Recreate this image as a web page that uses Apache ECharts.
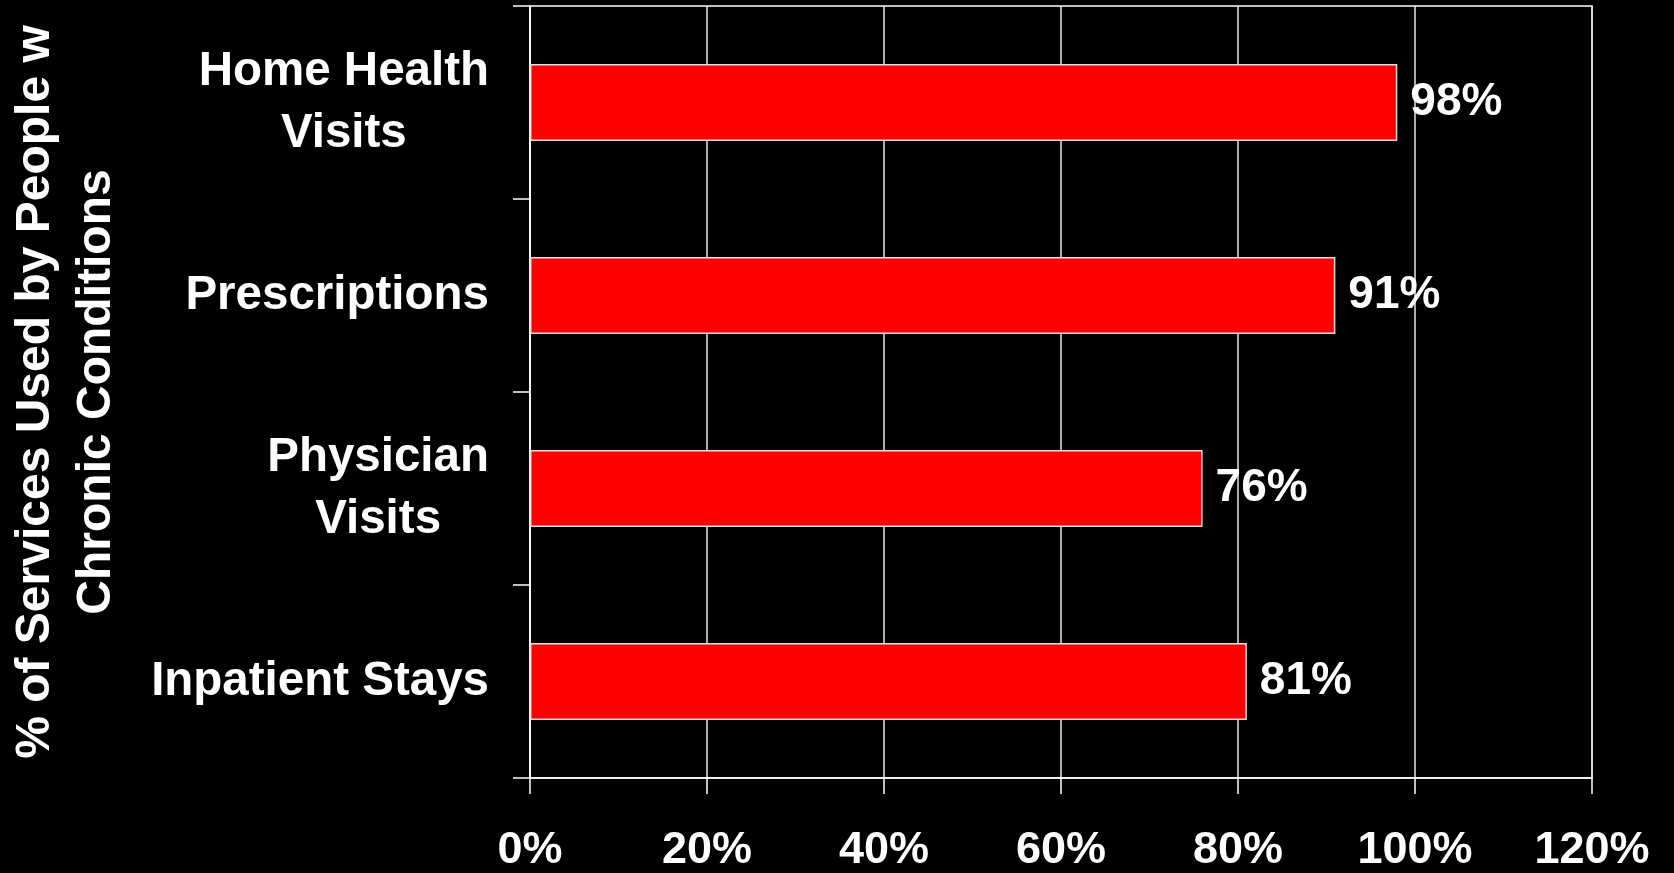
<!DOCTYPE html>
<html>
<head>
<meta charset="utf-8">
<title>% of Services Used by People w Chronic Conditions</title>
<script src="https://cdn.jsdelivr.net/npm/echarts@6/dist/echarts.min.js"></script>
<style>
  html, body { margin: 0; padding: 0; background: #000; }
  #chart { width: 1674px; height: 873px; }
</style>
</head>
<body>
<div id="chart"></div>
<script>
// Service categories, top to bottom
const categories = ['Home Health\nVisits', 'Prescriptions', 'Physician\nVisits', 'Inpatient Stays'];
// Share of each service used by people with chronic conditions (%)
const shares = [98, 91, 76, 81];
// Value axis range
const axisMin = 0;
const axisMax = 120;
const axisStep = 20;
const axisTitle = '% of Services Used by People w\nChronic Conditions';

const FONT = '"Liberation Sans", Arial, sans-serif';

const chart = echarts.init(document.getElementById('chart'), null, { renderer: 'canvas' });

chart.setOption({
  backgroundColor: '#000',
  animation: false,
  grid: {
    left: 530,
    right: 82,
    top: 6,
    bottom: 95,
    containLabel: false,
    outerBoundsMode: 'none',
    show: true,
    borderColor: '#fff',
    borderWidth: 1.5,
    backgroundColor: 'transparent'
  },
  xAxis: {
    type: 'value',
    min: axisMin,
    max: axisMax,
    interval: axisStep,
    axisLine: { show: true, lineStyle: { color: '#fff', width: 1.5 } },
    axisTick: { show: true, length: 16, lineStyle: { color: '#fff', width: 1.5 } },
    splitLine: { show: true, lineStyle: { color: '#e6e6e6', width: 1.5 } },
    axisLabel: {
      color: '#fff',
      fontFamily: FONT,
      fontWeight: 'bold',
      fontSize: 45,
      margin: 50,
      formatter: '{value}%'
    }
  },
  yAxis: {
    type: 'category',
    data: categories,
    inverse: true,
    boundaryGap: true,
    axisLine: { show: true, lineStyle: { color: '#fff', width: 1.5 } },
    axisTick: { show: true, length: 17, lineStyle: { color: '#fff', width: 1.5 } },
    splitLine: { show: false },
    axisLabel: {
      margin: 41,
      formatter: function (v) {
        return v.split('\n').map(function (s) { return '{c|' + s + '}'; }).join('\n');
      },
      rich: {
        c: {
          color: '#fff',
          fontFamily: FONT,
          fontWeight: 'bold',
          fontSize: 47.5,
          lineHeight: 62,
          align: 'center'
        }
      }
    },
    name: axisTitle,
    nameLocation: 'middle',
    nameRotate: 90,
    nameGap: 403,
    nameTextStyle: {
      color: '#fff',
      fontFamily: FONT,
      fontWeight: 'bold',
      fontSize: 48,
      lineHeight: 61,
      align: 'center'
    }
  },
  series: [{
    type: 'bar',
    data: shares,
    barCategoryGap: '60%',
    itemStyle: {
      color: '#ff0000',
      borderColor: '#e0e0e0',
      borderWidth: 1.5
    },
    label: {
      show: true,
      position: 'right',
      distance: 13,
      color: '#fff',
      fontFamily: FONT,
      fontWeight: 'bold',
      fontSize: 46,
      formatter: '{c}%'
    }
  }]
});
</script>
</body>
</html>
